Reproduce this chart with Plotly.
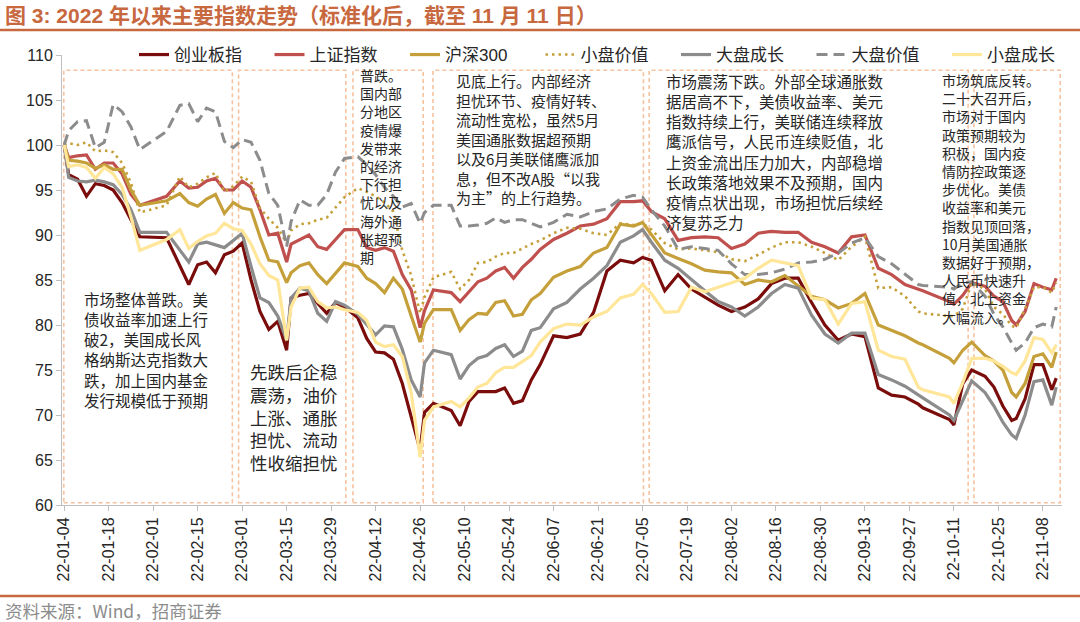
import pandas as pd
import plotly.graph_objects as go

# ---------------- data ----------------
AXIS_DAYS = pd.bdate_range("2022-01-04", "2022-11-11").strftime("%y-%m-%d").tolist()

TICK_LABELS = ["22-01-04", "22-01-18", "22-02-01", "22-02-15", "22-03-01", "22-03-15",
               "22-03-29", "22-04-12", "22-04-26", "22-05-10", "22-05-24", "22-06-07",
               "22-06-21", "22-07-05", "22-07-19", "22-08-02", "22-08-16", "22-08-30",
               "22-09-13", "22-09-27", "22-10-11", "22-10-25", "22-11-08"]

DATES = ["22-01-04", "22-01-05", "22-01-07", "22-01-11", "22-01-13", "22-01-17", "22-01-19", "22-01-21", "22-01-25", "22-01-27",
         "22-02-04", "22-02-09", "22-02-11", "22-02-15", "22-02-17", "22-02-21", "22-02-23", "22-02-25", "22-03-01", "22-03-03",
         "22-03-07", "22-03-09", "22-03-11", "22-03-15", "22-03-16", "22-03-18", "22-03-22", "22-03-24", "22-03-28", "22-03-30",
         "22-04-01", "22-04-06", "22-04-08", "22-04-12", "22-04-14", "22-04-18", "22-04-20", "22-04-22", "22-04-26", "22-04-27",
         "22-04-29", "22-05-05", "22-05-09", "22-05-11", "22-05-13", "22-05-17", "22-05-19", "22-05-23", "22-05-25", "22-05-27",
         "22-05-31", "22-06-02", "22-06-07", "22-06-10", "22-06-15", "22-06-20", "22-06-23", "22-06-28", "22-07-01", "22-07-05",
         "22-07-07", "22-07-12", "22-07-15", "22-07-20", "22-07-25", "22-07-28", "22-08-02", "22-08-05", "22-08-10", "22-08-15",
         "22-08-18", "22-08-23", "22-08-26", "22-08-31", "22-09-05", "22-09-08", "22-09-13", "22-09-16", "22-09-21", "22-09-26",
         "22-09-29", "22-09-30", "22-10-10", "22-10-11", "22-10-13", "22-10-17", "22-10-20", "22-10-24", "22-10-26", "22-10-28",
         "22-10-31", "22-11-02", "22-11-04", "22-11-08", "22-11-10", "22-11-11"]

CHINEXT = [100, 96.7, 96.2, 94.3, 95.7, 95.5, 95.0, 93.6, 91.7, 89.8,
           89.7, 86.7, 84.5, 86.7, 87.0, 85.8, 87.8, 88.2, 89.1, 85.0,
           81.5, 79.5, 80.4, 77.2, 83.0, 83.3, 83.5, 82.4, 81.3, 82.5,
           82.0, 80.8, 78.5, 77.0, 76.9, 76.2, 73.5, 69.8, 66.1, 70.3,
           71.3, 70.5, 68.8, 71.5, 72.6, 72.6, 72.6, 73.0, 71.3, 71.6,
           73.9, 75.6, 78.8, 78.6, 79.0, 81.4, 86.0, 87.2, 86.9, 87.5,
           87.2, 83.8, 85.6, 84.0, 83.1, 82.2, 81.5, 82.0, 82.9, 84.6,
           85.2, 85.2, 82.5, 80.0, 78.3, 79.0, 78.7, 73.0, 72.2, 72.0,
           71.2, 70.8, 69.5, 68.9, 73.5, 75.0, 74.3, 73.1, 71.0, 69.4,
           69.6, 71.8, 75.6, 75.6, 72.8, 74.1]

SSE = [100, 98.6, 98.8, 98.9, 97.3, 98.0, 98.0, 96.8, 94.5, 93.3,
       94.3, 96.0, 95.2, 95.3, 96.0, 96.3, 95.0, 95.0, 96.0, 95.3,
       92.8, 90.0, 90.2, 87.0, 89.0, 89.5, 90.0, 88.7, 88.4, 89.5,
       90.6, 90.6, 88.6, 88.3, 88.6, 88.2, 85.6, 83.9, 79.7, 81.6,
       83.9, 83.6, 82.6, 83.7, 84.8, 85.2, 86.0, 86.4, 85.2, 86.4,
       87.3, 88.4, 89.5, 90.2, 91.0, 91.2, 91.8, 93.7, 93.7, 93.8,
       92.6, 91.8, 89.4, 89.7, 89.8, 89.7, 88.5, 89.0, 90.2, 90.4,
       90.3, 90.3, 89.2, 88.7, 88.0, 89.8, 90.0, 86.3, 85.6, 84.5,
       84.0, 83.8, 82.6, 82.3, 83.3, 84.7, 84.3, 83.2, 82.6, 80.5,
       80.0, 81.5, 84.6, 84.2, 83.9, 85.2]

CSI300 = [100, 98.3, 98.2, 98.0, 97.4, 97.8, 97.3, 97.3, 95.0, 93.3,
          93.8, 94.6, 93.6, 93.2, 94.0, 94.5, 92.4, 93.6, 93.0, 92.8,
          89.8, 87.2, 87.0, 84.7, 85.8, 86.6, 86.9, 85.6, 84.6, 85.8,
          86.9, 86.5, 85.2, 84.6, 83.6, 85.2, 84.0, 81.0, 78.1, 80.2,
          81.7, 81.7, 79.4, 80.6, 81.3, 81.2, 82.5, 82.7, 81.0, 81.2,
          82.8, 83.5, 85.3, 86.0, 86.5, 88.0, 88.6, 91.2, 91.0, 91.4,
          90.0, 88.0, 87.4, 86.8, 86.1, 85.9, 85.8, 84.5, 85.0, 84.8,
          85.5, 84.3, 83.2, 82.8, 81.9, 82.4, 83.5, 80.0, 79.4, 78.8,
          78.0, 77.8, 76.3, 75.8, 77.2, 78.1, 76.6, 76.0, 75.0, 72.5,
          72.0, 73.5, 76.5, 76.8, 75.3, 77.0]

SMALL_VALUE = [100, 100.2, 100.0, 100.3, 99.3, 99.4, 99.2, 98.0, 95.8, 92.5,
               93.3, 96.5, 95.3, 95.7, 96.4, 96.9, 94.8, 95.4, 96.5, 95.9,
               93.0, 91.8, 90.8, 89.1, 90.5, 91.2, 91.3, 91.7, 91.9, 93.0,
               94.2, 95.2, 94.8, 94.3, 93.6, 92.6, 88.3, 85.5, 81.3, 83.1,
               85.3, 85.9, 84.0, 85.0, 86.9, 87.0, 87.6, 88.0, 88.0, 88.5,
               89.0, 89.4, 90.2, 90.8, 90.7, 90.2, 90.0, 91.3, 91.1, 91.3,
               90.6, 89.1, 88.4, 88.5, 88.3, 88.1, 87.3, 87.1, 87.8, 88.6,
               89.2, 89.2, 88.7, 88.0, 87.2, 88.7, 89.8, 84.1, 84.2, 83.2,
               81.5, 81.3, 81.0, 81.0, 81.8, 84.7, 84.0, 82.0, 81.2, 79.9,
               79.7, 81.8, 84.2, 84.2, 83.6, 84.7]

LARGE_GROWTH = [100, 96.4, 96.0, 95.9, 96.1, 95.9, 95.6, 94.5, 92.8, 90.3,
                90.3, 88.3, 87.0, 89.0, 89.2, 88.9, 88.6, 89.4, 90.2, 86.5,
                83.0, 82.5, 81.0, 78.3, 83.0, 84.1, 83.8, 81.3, 80.4, 82.6,
                82.2, 81.2, 80.0, 78.9, 79.9, 79.8, 77.3, 73.9, 72.0, 75.8,
                77.2, 76.7, 74.0, 75.5, 76.3, 76.6, 77.4, 77.8, 76.5, 77.1,
                79.4, 79.7, 81.8, 82.5, 84.0, 85.2, 86.6, 89.2, 89.9, 90.6,
                89.2, 87.2, 86.3, 85.0, 83.8, 82.6, 82.0, 81.0, 82.0, 83.5,
                84.5, 84.1, 81.1, 79.0, 78.0, 79.1, 79.1, 74.5, 73.9, 73.2,
                72.3, 71.9, 70.0, 69.4, 71.6, 73.8, 72.5, 71.0, 69.2, 67.8,
                67.4, 70.0, 73.7, 73.9, 71.1, 73.1]

LARGE_VALUE = [100, 101.6, 102.6, 102.7, 99.7, 100.3, 104.5, 103.7, 102.0, 99.5,
               101.5, 104.4, 104.6, 102.6, 104.1, 103.7, 100.4, 99.7, 100.6, 100.3,
               98.3, 94.6, 93.3, 88.7, 91.5, 93.9, 93.3, 93.3, 94.5, 97.0,
               98.5, 98.7, 97.8, 96.7, 95.3, 94.3, 93.1, 93.5, 91.3, 92.5,
               93.3, 93.3, 91.0, 91.0, 91.1, 91.3, 91.9, 91.4, 91.7, 91.7,
               91.3, 90.9, 91.4, 92.3, 92.0, 92.6, 92.9, 94.0, 94.4, 94.2,
               92.8, 91.0, 88.4, 88.7, 88.5, 88.3, 86.8, 85.6, 85.6, 85.8,
               86.2, 86.9, 87.0, 87.3, 88.0, 89.1, 89.7, 87.6, 86.8, 85.6,
               84.5, 84.4, 84.2, 84.0, 84.7, 84.8, 83.2, 81.2, 79.8, 78.0,
               77.2, 78.0, 79.7, 80.1, 79.8, 82.0]

SMALL_GROWTH = [100, 97.6, 97.8, 97.5, 96.3, 97.5, 96.8, 95.3, 92.0, 88.3,
                89.5, 90.6, 88.5, 89.3, 89.9, 90.2, 91.3, 90.7, 90.5, 89.0,
                86.8, 85.5, 85.0, 78.3, 82.0, 84.1, 84.2, 82.6, 81.9, 82.0,
                81.7, 81.4, 80.5, 78.1, 77.6, 77.8, 76.5, 72.5, 65.3, 69.4,
                70.9, 71.5, 70.9, 71.9, 73.1, 73.5, 74.7, 75.3, 75.3, 76.0,
                76.6, 78.1, 79.6, 80.1, 80.0, 80.9, 81.5, 83.0, 83.4, 84.5,
                83.5, 81.4, 81.5, 84.2, 83.7, 84.2, 84.7, 85.2, 86.3, 87.2,
                86.9, 86.6, 83.0, 82.8, 80.1, 82.4, 82.6, 77.2, 76.5, 76.2,
                73.1, 72.8, 72.0, 71.3, 73.6, 76.3, 76.3, 76.0, 75.4, 74.7,
                74.5, 76.0, 78.6, 78.4, 76.9, 77.8]

SERIES_NAMES = ["创业板指", "上证指数", "沪深300", "小盘价值", "大盘成长", "大盘价值", "小盘成长"]

# ---------------- styling ----------------
CJK = "Noto Sans CJK SC"
LATIN = "Liberation Sans, Noto Sans CJK SC"
TEXT_COL = "#262626"
ACCENT = "#C7683F"
BOX_COL = "#F6C2A0"

styles = [
    dict(color="#7A0C0C", width=3.2),
    dict(color="#C0504D", width=3.2),
    dict(color="#C5A03A", width=3.2),
    dict(color="#C5A03A", width=2.6, dash="2.5px,4px"),
    dict(color="#8C8C8C", width=3.2),
    dict(color="#8C8C8C", width=3.0, dash="11px,6px"),
    dict(color="#FFE699", width=3.2),
]
values = [CHINEXT, SSE, CSI300, SMALL_VALUE, LARGE_GROWTH, LARGE_VALUE, SMALL_GROWTH]

fig = go.Figure()
for name, vals, st in zip(SERIES_NAMES, values, styles):
    fig.add_trace(go.Scatter(x=DATES, y=vals, name=name, mode="lines", line=st,
                             hoverinfo="x+y+name"))

# plot area: x px 62..1062 (1000 wide), y px 55..505 (450 tall)
def px_x(p):
    return (p - 62) / 1000.0

def px_y(p):
    return (505 - p) / 450.0

# annotation boxes (category index / value coordinates)
boxes = [(-0.1, 37.8), (39.2, 63.3), (64.9, 80.7), (82.9, 130.2), (131.5, 203.2), (204.5, 223.9)]
shapes = []
for x0, x1 in boxes:
    shapes.append(dict(type="rect", xref="x", yref="y", x0=x0, x1=x1, y0=60.25, y1=108.3,
                       line=dict(color=BOX_COL, width=1.6, dash="4px,3px"), layer="below"))
# header / footer rules
for yp in (30, 596):
    shapes.append(dict(type="line", xref="paper", yref="paper", x0=px_x(0), x1=px_x(1080),
                       y0=px_y(yp), y1=px_y(yp), line=dict(color=ACCENT, width=2.5)))

texts = [
    (4.0, 84.3, 15.5, "市场整体普跌。美<br>债收益率加速上行<br>破2，美国成长风<br>格纳斯达克指数大<br>跌，加上国内基金<br>发行规模低于预期"),
    (41.4, 76.4, 17.5, "先跌后企稳<br>震荡，油价<br>上涨、通胀<br>担忧、流动<br>性收缩担忧"),
    (66.0, 109.1, 14, "普跌。<br>国内部<br>分地区<br>疫情爆<br>发带来<br>的经济<br>下行担<br>忧以及<br>海外通<br>胀超预<br>期"),
    (87.6, 108.6, 15, "见底上行。内部经济<br>担忧环节、疫情好转、<br>流动性宽松，虽然5月<br>美国通胀数据超预期<br>以及6月美联储鹰派加<br>息，但不改A股“以我<br>为主”的上行趋势。"),
    (134.9, 108.6, 15.5, "市场震荡下跌。外部全球通胀数<br>据居高不下，美债收益率、美元<br>指数持续上行，美联储连续释放<br>鹰派信号，人民币连续贬值，北<br>上资金流出压力加大，内部稳增<br>长政策落地效果不及预期，国内<br>疫情点状出现，市场担忧后续经<br>济复苏乏力"),
    (196.8, 108.6, 14, "市场筑底反转。<br>二十大召开后，<br>市场对于国内<br>政策预期较为<br>积极，国内疫<br>情防控政策逐<br>步优化。美债<br>收益率和美元<br>指数见顶回落，<br>10月美国通胀<br>数据好于预期，<br>人民币快速升<br>值，北上资金<br>大幅流入。"),
]
annotations = []
for x, y, size, t in texts:
    annotations.append(dict(x=x, y=y, xref="x", yref="y", text=t, showarrow=False,
                            xanchor="left", yanchor="top", align="left",
                            font=dict(family=CJK, size=size, color=TEXT_COL)))

annotations.append(dict(x=px_x(3), y=px_y(15), xref="paper", yref="paper", showarrow=False,
                        xanchor="left", yanchor="middle",
                        text="<b>图 3: 2022 年以来主要指数走势（标准化后，截至 11 月 11 日）</b>",
                        font=dict(family=LATIN, size=21, color=ACCENT)))
annotations.append(dict(x=px_x(3), y=px_y(610), xref="paper", yref="paper", showarrow=False,
                        xanchor="left", yanchor="middle", text="资料来源：Wind，招商证券",
                        font=dict(family=CJK, size=17.5, color="#8C8C8C")))

fig.update_layout(
    width=1080, height=622,
    margin=dict(l=62, r=18, t=55, b=117, pad=0, autoexpand=False),
    paper_bgcolor="white", plot_bgcolor="white",
    font=dict(family=LATIN, color=TEXT_COL),
    showlegend=True,
    legend=dict(orientation="h", x=px_x(134), y=px_y(55), xanchor="left", yanchor="middle",
                font=dict(family=LATIN, size=17, color=TEXT_COL),
                bgcolor="rgba(255,255,255,0)", entrywidth=90.5, entrywidthmode="pixels",
                traceorder="normal"),
    shapes=shapes,
    annotations=annotations,
    xaxis=dict(type="category", categoryorder="array", categoryarray=AXIS_DAYS,
               range=[-0.5, 224.3], tickmode="array", tickvals=TICK_LABELS, ticktext=TICK_LABELS,
               tickangle=-90, showline=True, linecolor="#BFBFBF", linewidth=1,
               ticks="outside", ticklen=5, tickcolor="#BFBFBF", showgrid=False,
               tickfont=dict(family=LATIN, size=16, color=TEXT_COL)),
    yaxis=dict(range=[60, 110], dtick=5, showline=True, linecolor="#BFBFBF", linewidth=1,
               ticks="outside", ticklen=5, tickcolor="#BFBFBF", showgrid=False, zeroline=False,
               tickfont=dict(family=LATIN, size=16, color=TEXT_COL)),
)

fig.write_html("out.html", config={"displayModeBar": False},
               post_script="document.body.style.margin='0';")
